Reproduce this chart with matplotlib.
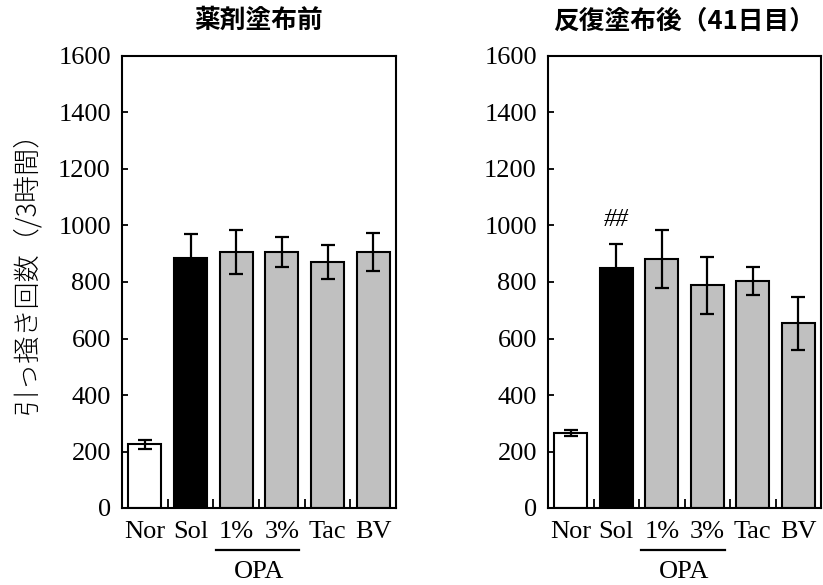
import matplotlib
matplotlib.use("Agg")
import matplotlib.pyplot as plt
import matplotlib.transforms as mtransforms
import numpy as np

categories = ["Nor", "Sol", "1%", "3%", "Tac", "BV"]
before_vals = [225, 886, 906, 906, 871, 906]
before_err = [15, 85, 77, 52, 61, 68]
after_vals = [265, 848, 881, 788, 803, 654]
after_err = [10, 88, 102, 101, 50, 93]
titles = ["薬剤塗布前", "反復塗布後（41日目）"]
ylabel = "引っ掻き回数（/3時間）"
group_label = "OPA"
yticks = [0, 200, 400, 600, 800, 1000, 1200, 1400, 1600]
colors = ["white", "black", "#c0c0c0", "#c0c0c0", "#c0c0c0", "#c0c0c0"]

SERIF = "Liberation Serif"
CJK = "Noto Sans CJK JP"

fig = plt.figure(figsize=(8.23, 5.85), dpi=100)
W, H = 823, 585
axes_px = [(122, 56, 396, 508), (548, 56, 821, 508)]

def draw(ax, vals, errs, title):
    x = np.arange(len(categories))
    ax.bar(x, vals, width=0.72, color=colors, edgecolor="black", linewidth=1.5, zorder=2)
    ax.errorbar(x, vals, yerr=errs, fmt="none", ecolor="black", elinewidth=1.6,
                capsize=5, capthick=1.6, zorder=3)
    ax.set_xlim(-0.5, 5.5)
    ax.set_ylim(0, 1600)
    ax.set_yticks(yticks)
    ax.set_yticklabels([str(v) for v in yticks], fontfamily=SERIF, fontsize=19)
    ax.set_xticks(x)
    ax.set_xticklabels(categories, fontfamily=SERIF, fontsize=19)
    ax.tick_params(axis="x", which="major", length=0, pad=9)
    ax.set_xticks(np.arange(0.5, 5, 1), minor=True)
    ax.tick_params(axis="x", which="minor", direction="in", length=6.5, width=1.3)
    ax.tick_params(axis="y", which="major", direction="in", length=4, width=1.3, pad=8)
    for s in ax.spines.values():
        s.set_linewidth(1.5)
    ax.set_title(title, fontfamily=CJK, fontweight="bold", fontsize=18.5, pad=20)
    trans = mtransforms.blended_transform_factory(ax.transData, ax.transAxes)
    ax.plot([1.55, 3.38], [-0.093, -0.093], color="black", lw=1.6, transform=trans,
            clip_on=False)
    ax.text(2.5, -0.142, group_label, transform=trans, ha="center", va="center",
            fontfamily=SERIF, fontsize=19)

axs = []
for (l, t, r, b) in axes_px:
    axs.append(fig.add_axes([l / W, 1 - b / H, (r - l) / W, (b - t) / H]))

draw(axs[0], before_vals, before_err, titles[0])
draw(axs[1], after_vals, after_err, titles[1])

axs[1].text(1, 1018, "##", ha="center", va="center", fontfamily=SERIF,
            fontstyle="italic", fontsize=18)

fig.text(26 / W, 1 - 266 / H, ylabel, rotation=90, ha="center", va="center",
         fontfamily=CJK, fontweight="light", fontsize=19.5)

fig.savefig("out.png", dpi=100)
